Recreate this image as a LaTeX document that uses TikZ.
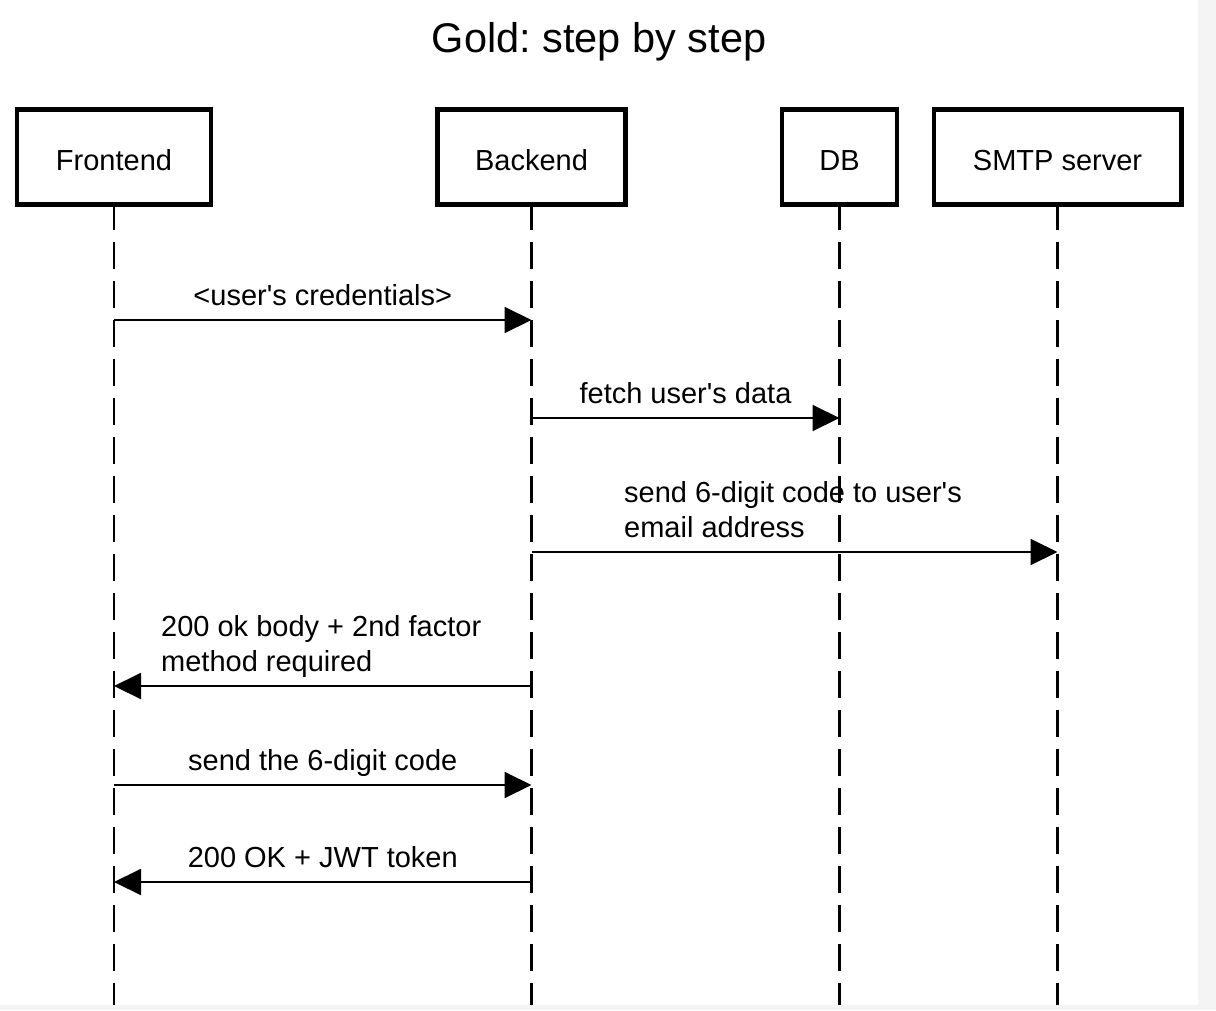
\documentclass[tikz,border=0pt]{standalone}
\usepackage{fontspec}
\setmainfont{Liberation Sans}
\usetikzlibrary{arrows.meta}
\definecolor{strip}{HTML}{F4F4F4}
\frenchspacing
\begin{document}
\begin{tikzpicture}[x=1pt,y=-1pt,
  actor/.style={draw, line width=4.5pt, fill=white, minimum height=95pt, inner sep=0pt,
    font=\fontsize{29}{35}\selectfont, text height=26pt, text depth=0pt},
  life/.style={line width=2.2pt, dash pattern=on 27pt off 12pt, dash phase=4pt},
  msg/.style={line width=2pt, -{Triangle[length=27pt,width=26pt]}},
  lbl/.style={font=\fontsize{29}{35}\selectfont, inner sep=0pt},
  multi/.style={lbl, align=left, anchor=base west}]
\useasboundingbox (0,0) rectangle (1216,1010);
\fill[white] (0,0) rectangle (1216,1010);
\fill[strip] (1198,0) rectangle (1216,1010);
\fill[strip] (0,1005) rectangle (1216,1010);

\node[font=\fontsize{41.5}{48}\selectfont, anchor=base, inner sep=0pt] (title) at (599,52) {Gold: step by step};

\coordinate (bot) at (0,1005);
\node[actor, minimum width=194pt] (fe) at (114,157) {Frontend};
\node[actor, minimum width=188pt] (be) at (531.5,157) {Backend};
\node[actor, minimum width=115pt] (db) at (839.5,157) {DB};
\node[actor, minimum width=247.5pt] (smtp) at (1057.5,157) {SMTP server};

\foreach \n in {fe,be,db,smtp}{
  \draw[life] (\n.south) -- (\n.south |- bot);
}
% redraw boxes over lifelines
\node[actor, minimum width=194pt] at (fe) {Frontend};
\node[actor, minimum width=188pt] at (be) {Backend};
\node[actor, minimum width=115pt] at (db) {DB};
\node[actor, minimum width=247.5pt] at (smtp) {SMTP server};

\coordinate (y1) at (0,320);
\coordinate (y2) at (0,418);
\coordinate (y3) at (0,552);
\coordinate (y4) at (0,686);
\coordinate (y5) at (0,785);
\coordinate (y6) at (0,882);

\draw[msg] (fe |- y1) -- node[lbl, midway, anchor=base, yshift=15pt] (l1) {<user\textquotesingle s credentials>} (be |- y1);
\draw[msg] (be |- y2) -- node[lbl, midway, anchor=base, yshift=15pt] (l2) {fetch user\textquotesingle s data} (db |- y2);
\draw[msg] (be |- y3) -- (smtp |- y3);
\node[multi] (l3) at (624,537) {send 6-digit code to user\textquotesingle s\\email address};
\draw[msg] (be |- y4) -- (fe |- y4);
\node[multi] (l4) at (161,671) {200 ok body + 2nd factor\\method required};
\draw[msg] (fe |- y5) -- node[lbl, midway, anchor=base, yshift=15pt] (l5) {send the 6-digit code} (be |- y5);
\draw[msg] (be |- y6) -- node[lbl, midway, anchor=base, yshift=15pt] (l6) {200 OK + JWT token} (fe |- y6);
\end{tikzpicture}
\end{document}
